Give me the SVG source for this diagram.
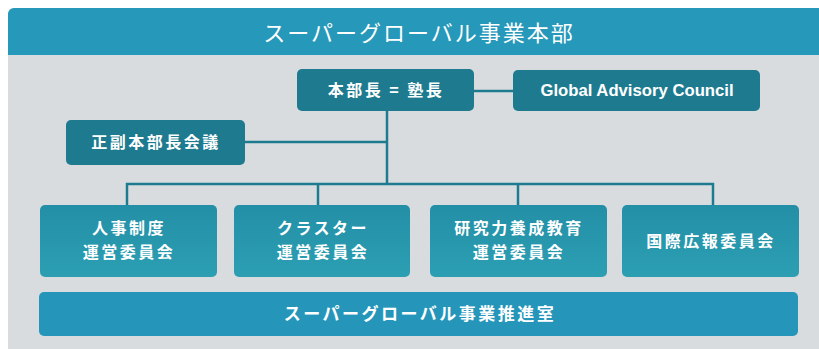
<svg xmlns="http://www.w3.org/2000/svg" width="819" height="349" viewBox="0 0 819 349">
<defs>
<linearGradient id="g" x1="0" y1="0" x2="0" y2="1"><stop offset="0" stop-color="#238fa6"/><stop offset="1" stop-color="#2c9fb3"/></linearGradient>
<style>
text{font-family:"Noto Sans CJK JP","Liberation Sans",sans-serif;fill:#fff;text-anchor:middle;font-weight:bold}
.dk{fill:#1e7b8f}
.lt{fill:url(#g)}
.bar{fill:#2596b9}
.t{font-size:16px;letter-spacing:2.5px}
.c{fill:none;stroke:#1e7b8f;stroke-width:2.5}
</style>
</defs>
<rect x="8" y="8" width="830" height="360" rx="6" fill="#d8dcde"/>
<path d="M8 55 V14 a6 6 0 0 1 6 -6 H830 V55 Z" fill="#2698ba"/>
<text x="419" y="41" style="font-size:22px;font-weight:normal;letter-spacing:2px">スーパーグローバル事業本部</text>
<g id="connectors">
<path class="c" d="M474 91 H513 M387 111 V184 M245 142 H387 M127 205 V184 H713 V205 M318 184 V205 M518 184 V205"/>
</g>
<g id="head"><rect class="dk" x="297" y="69" width="177" height="42" rx="5"/><text class="t" x="386" y="96">本部長 = 塾長</text></g>
<g id="gac"><rect class="dk" x="513" y="70" width="247" height="41" rx="5"/><text x="637" y="96" style="font-size:16.7px;font-family:'Liberation Sans',sans-serif">Global Advisory Council</text></g>
<g id="meeting"><rect class="dk" x="66" y="120" width="179" height="45" rx="5"/><text class="t" x="156" y="148">正副本部長会議</text></g>
<g id="c1"><rect class="lt" x="40" y="205" width="177" height="72" rx="5"/><text class="t" x="129" y="234">人事制度</text><text class="t" x="129" y="258">運営委員会</text></g>
<g id="c2"><rect class="lt" x="234" y="205" width="176" height="72" rx="5"/><text class="t" x="323" y="234">クラスター</text><text class="t" x="323" y="258">運営委員会</text></g>
<g id="c3"><rect class="lt" x="430" y="205" width="177" height="72" rx="5"/><text class="t" x="519" y="234">研究力養成教育</text><text class="t" x="519" y="258">運営委員会</text></g>
<g id="c4"><rect class="lt" x="622" y="205" width="177" height="72" rx="5"/><text class="t" x="711" y="247">国際広報委員会</text></g>
<g id="office"><rect class="bar" x="39" y="292" width="759" height="44" rx="5"/><text class="t" x="420" y="320" style="font-size:17px">スーパーグローバル事業推進室</text></g>
</svg>
